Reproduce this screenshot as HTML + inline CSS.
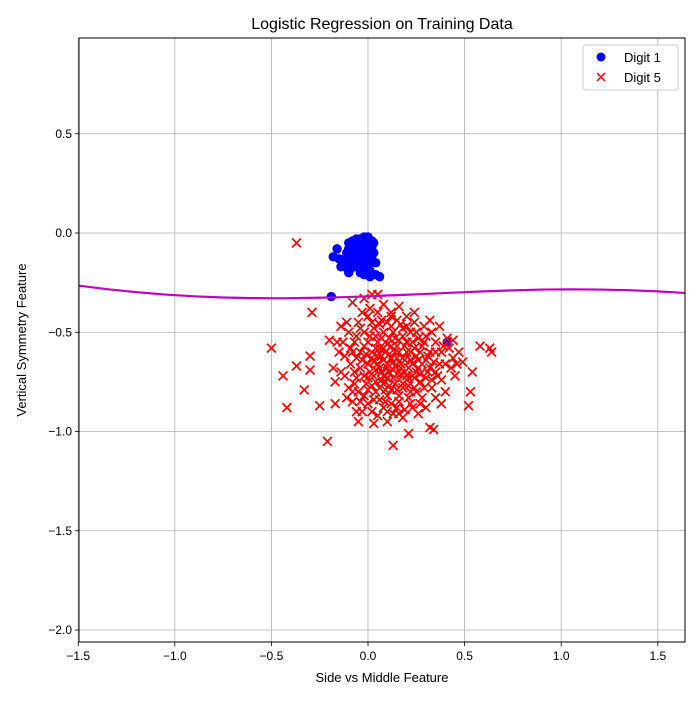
<!DOCTYPE html>
<html><head><meta charset="utf-8"><style>
body{margin:0;background:#fff;}
svg text{font-family:"Liberation Sans",sans-serif;fill:#000;}
</style></head><body>
<svg id="chart" width="700" height="700" xmlns="http://www.w3.org/2000/svg"></svg>
<script>
const xTicks=[-1.5,-1.0,-0.5,0.0,0.5,1.0,1.5];
const xTickLabels=["−1.5","−1.0","−0.5","0.0","0.5","1.0","1.5"];
const yTicks=[0.5,0.0,-0.5,-1.0,-1.5,-2.0];
const yTickLabels=["0.5","0.0","−0.5","−1.0","−1.5","−2.0"];
const digit1=[[-0.1,-0.05],[-0.08,-0.04],[-0.06,-0.03],[-0.04,-0.03],[-0.02,-0.02],[0,-0.02],[0.02,-0.04],[-0.1,-0.08],[-0.08,-0.07],[-0.06,-0.06],[-0.04,-0.06],[-0.02,-0.05],[0,-0.06],[0.02,-0.07],[-0.11,-0.1],[-0.09,-0.1],[-0.07,-0.09],[-0.05,-0.09],[-0.03,-0.08],[-0.01,-0.09],[0.01,-0.1],[0.03,-0.1],[-0.12,-0.13],[-0.1,-0.12],[-0.08,-0.12],[-0.06,-0.11],[-0.04,-0.12],[-0.02,-0.12],[0,-0.13],[0.02,-0.13],[-0.13,-0.16],[-0.11,-0.15],[-0.08,-0.15],[-0.05,-0.15],[-0.03,-0.16],[0,-0.16],[0.02,-0.15],[-0.15,-0.13],[-0.12,-0.17],[-0.09,-0.18],[-0.06,-0.17],[-0.03,-0.19],[0.01,-0.19],[-0.04,-0.2],[-0.02,-0.21],[0.01,-0.22],[0.04,-0.21],[0.06,-0.22],[-0.16,-0.08],[-0.18,-0.12],[-0.14,-0.17],[-0.1,-0.2],[-0.01,-0.18],[0.03,-0.05],[0.04,-0.15],[-0.19,-0.32],[0.41,-0.55]];
const digit5=[[-0.37,-0.05],[-0.5,-0.58],[-0.44,-0.72],[-0.42,-0.88],[-0.29,-0.4],[-0.37,-0.67],[-0.33,-0.79],[-0.3,-0.62],[-0.3,-0.69],[-0.25,-0.87],[-0.21,-1.05],[-0.2,-0.54],[0.13,-1.07],[0.21,-1.01],[0.52,-0.87],[0.53,-0.8],[0.54,-0.7],[0.58,-0.57],[0.64,-0.6],[0.63,-0.58],[0.32,-0.98],[0.34,-0.99],[-0.05,-0.95],[0.03,-0.96],[-0.18,-0.68],[-0.17,-0.75],[-0.17,-0.86],[-0.15,-0.6],[-0.14,-0.47],[-0.12,-0.72],[-0.11,-0.83],[-0.08,-0.35],[-0.06,-0.9],[-0.02,-0.33],[0.02,-0.31],[0.05,-0.31],[0.08,-0.36],[0.12,-0.4],[0.16,-0.37],[0.2,-0.42],[0.24,-0.4],[0.29,-0.47],[0.32,-0.44],[0.37,-0.47],[0.41,-0.53],[0.44,-0.54],[0.47,-0.6],[0.49,-0.65],[0.45,-0.72],[0.4,-0.8],[0.38,-0.86],[0.3,-0.88],[0.26,-0.91],[0.18,-0.93],[0.1,-0.95],[0.02,-0.9],[-0.08,-0.85],[-0.1,-0.78],[-0.12,-0.62],[-0.1,-0.5],[-0.05,-0.45],[0,-0.42],[0.05,-0.4],[0.1,-0.45],[0.15,-0.44],[0.2,-0.47],[0.25,-0.5],[0.3,-0.52],[0.35,-0.55],[0.38,-0.6],[0.4,-0.66],[0.36,-0.72],[0.33,-0.78],[0.28,-0.83],[0.22,-0.86],[0.15,-0.88],[0.08,-0.88],[0.0,-0.86],[-0.05,-0.8],[-0.07,-0.7],[-0.08,-0.6],[-0.06,-0.52],[-0.02,-0.5],[0.03,-0.48],[0.08,-0.5],[0.13,-0.5],[0.18,-0.52],[0.23,-0.55],[0.28,-0.57],[0.32,-0.6],[0.34,-0.65],[0.31,-0.7],[0.27,-0.75],[0.22,-0.8],[0.16,-0.82],[0.1,-0.82],[0.04,-0.8],[-0.01,-0.76],[-0.04,-0.68],[-0.04,-0.6],[0,-0.55],[0.05,-0.55],[0.1,-0.56],[0.15,-0.57],[0.2,-0.6],[0.25,-0.62],[0.28,-0.66],[0.25,-0.7],[0.2,-0.74],[0.14,-0.76],[0.08,-0.76],[0.03,-0.72],[0,-0.66],[0.02,-0.6],[0.07,-0.62],[0.12,-0.63],[0.17,-0.66],[0.21,-0.68],[0.17,-0.71],[0.11,-0.7],[0.06,-0.68],[0.1,-0.66],[0.14,-0.6],[0.06,-0.58],[0.18,-0.63],[0.22,-0.64],[0.03,-0.65],[0.08,-0.72],[0.13,-0.73],[0.18,-0.78],[0.24,-0.78],[0.06,-0.84],[0.12,-0.86],[0.19,-0.89],[-0.03,-0.9],[0.05,-0.92],[0.13,-0.91],[-0.13,-0.55],[-0.09,-0.66],[-0.14,-0.7],[-0.07,-0.76],[0.42,-0.58],[0.44,-0.63],[0.43,-0.68],[0.35,-0.83],[0.27,-0.6],[0.3,-0.64],[0.24,-0.45],[0.18,-0.48],[0.07,-0.44],[0.01,-0.38],[-0.03,-0.4],[0.11,-0.53],[0.16,-0.54],[0.26,-0.68],[0.09,-0.79],[-0.02,-0.82],[0.15,-0.79],[0.38,-0.74],[0.46,-0.66],[0.12,-0.42],[0.27,-0.86],[-0.11,-0.45],[-0.16,-0.55],[0.33,-0.5],[0.04,-0.75],[0.2,-0.55],[0.23,-0.72],
[0.01,-0.52],[0.04,-0.58],[0.07,-0.53],[0.09,-0.6],[0.12,-0.57],[0.15,-0.63],[0.19,-0.57],[0.22,-0.6],[0.02,-0.63],[0.05,-0.66],[0.08,-0.64],[0.11,-0.61],[0.14,-0.67],[0.16,-0.6],[0.19,-0.7],[0.23,-0.66],[0.01,-0.7],[0.04,-0.69],[0.07,-0.7],[0.1,-0.73],[0.13,-0.69],[0.16,-0.74],[0.19,-0.64],[0.24,-0.73],[0.02,-0.77],[0.06,-0.78],[0.09,-0.75],[0.12,-0.79],[0.15,-0.71],[0.18,-0.76],[0.21,-0.77],[0.26,-0.64],[-0.02,-0.57],[-0.03,-0.64],[-0.02,-0.72],[0.0,-0.79],[0.03,-0.84],[0.09,-0.85],[0.16,-0.85],[0.21,-0.83],[0.25,-0.8],[0.29,-0.78],[0.3,-0.73],[0.32,-0.68],[0.31,-0.62],[0.29,-0.55],[0.26,-0.53],[0.22,-0.5],[0.17,-0.46],[0.12,-0.47],[0.06,-0.46],[0.02,-0.45],[-0.04,-0.48],[-0.07,-0.55],[-0.09,-0.58],[-0.06,-0.63],[-0.06,-0.73],[-0.08,-0.8],[-0.04,-0.85],[0.1,-0.9],[0.16,-0.91],[0.23,-0.88],[0.35,-0.6],[0.37,-0.66],[0.35,-0.7],[0.33,-0.74],[0.39,-0.57],[0.14,-0.53],[0.09,-0.55],[0.04,-0.52],[0.1,-0.68],[0.13,-0.65],[0.07,-0.74],[0.17,-0.68],[0.2,-0.72],[0.05,-0.62],[0.11,-0.77],[0.24,-0.58],[0.27,-0.71],[-0.01,-0.61],[0.0,-0.73],[0.08,-0.58]];
const curveX=[-1.5,-1.35,-1.2,-1.05,-0.9,-0.75,-0.6,-0.45,-0.3,-0.15,0.0,0.15,0.3,0.45,0.6,0.75,0.9,1.05,1.2,1.35,1.5,1.64];
const curveY=[-0.265,-0.283,-0.298,-0.31,-0.319,-0.325,-0.328,-0.329,-0.327,-0.324,-0.319,-0.313,-0.307,-0.3,-0.294,-0.289,-0.285,-0.284,-0.285,-0.288,-0.294,-0.302];

const L=79,R=685,T=38,B=642;
const xs=v=>368+v*193.2;
const ys=v=>233-v*198.5;
const svg=document.getElementById('chart');
const NS='http://www.w3.org/2000/svg';
function mk(tag,attrs,parent){const e=document.createElementNS(NS,tag);for(const k in attrs)e.setAttribute(k,attrs[k]);(parent||svg).appendChild(e);return e;}

const grid=mk('g',{});


xTicks.forEach((v,i)=>{
  const x=xs(v);
  const g=mk('line',{x1:x,x2:x,y1:T,y2:B,stroke:'#b0b0b0','stroke-width':0.8},grid);
  
  
  const t=mk('line',{x1:x,x2:x,y1:B,y2:B+4,stroke:'#000','stroke-width':0.8});
  
  
  const l=mk('text',{x:x,y:B+18,'font-size':12,'text-anchor':'middle'});
  l.textContent=xTickLabels[i];
  
  
});
yTicks.forEach((v,i)=>{
  const y=ys(v);
  const g=mk('line',{x1:L,x2:R,y1:y,y2:y,stroke:'#b0b0b0','stroke-width':0.8},grid);
  
  
  const t=mk('line',{x1:L-4,x2:L,y1:y,y2:y,stroke:'#000','stroke-width':0.8});
  
  
  const l=mk('text',{x:L-7,y:y+4,'font-size':12,'text-anchor':'end'});
  l.textContent=yTickLabels[i];
  
  
});

const g1=mk('g',{fill:'#0000ff'});


digit1.forEach(p=>{
  const c=mk('circle',{cx:xs(p[0]),cy:ys(p[1]),r:4.7},g1);
  
  
});
const g5=mk('g',{stroke:'#ff0000','stroke-width':1.7});


digit5.forEach(p=>{
  const x=xs(p[0]),y=ys(p[1]),s=4.4;
  const c=mk('path',{d:`M${x-s},${y-s}L${x+s},${y+s}M${x-s},${y+s}L${x+s},${y-s}`},g5);
  
  
});
const cp=mk('clipPath',{id:'clip'});
mk('rect',{x:L,y:T,width:R-L,height:B-T},cp);
const pts=curveX.map((v,i)=>xs(v)+','+ys(curveY[i])).join(' ');
const curve=mk('polyline',{points:pts,fill:'none',stroke:'#c000c0','stroke-width':2.2,'stroke-linejoin':'round','clip-path':'url(#clip)'});



const frame=mk('rect',{x:L,y:T,width:R-L,height:B-T,fill:'none',stroke:'#000','stroke-width':1});



const title=mk('text',{x:(L+R)/2,y:29,'font-size':16,'text-anchor':'middle'});
title.textContent='Logistic Regression on Training Data';


const xt=mk('text',{x:(L+R)/2,y:682,'font-size':13,'text-anchor':'middle'});
xt.textContent='Side vs Middle Feature';


const yt=mk('text',{x:0,y:0,'font-size':13,'text-anchor':'middle',transform:`translate(26,${(T+B)/2}) rotate(-90)`});
yt.textContent='Vertical Symmetry Feature';



const lg=mk('g',{});


mk('rect',{x:583,y:45,width:95,height:45,rx:3,fill:'#fff',stroke:'#ccc'},lg);
const le1=mk('g',{},lg);


mk('circle',{cx:601,cy:57,r:4.5,fill:'#0000ff'},le1);
const t1=mk('text',{x:624,y:62,'font-size':13},le1);t1.textContent='Digit 1';
const le2=mk('g',{},lg);


mk('path',{d:'M597,73L605,81M597,81L605,73',stroke:'#ff0000','stroke-width':1.5},le2);
const t2=mk('text',{x:624,y:82,'font-size':13},le2);t2.textContent='Digit 5';
</script>
</body></html>
